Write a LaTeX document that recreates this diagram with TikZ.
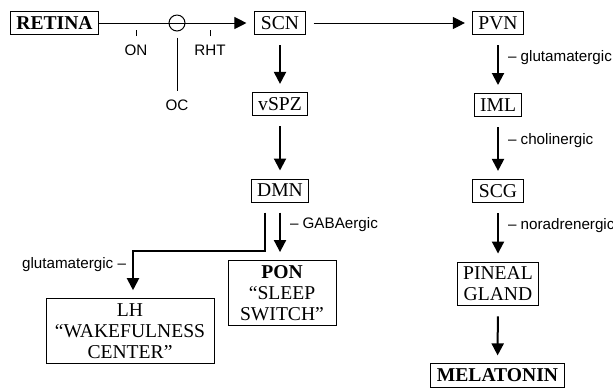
\documentclass[tikz,border=0pt]{standalone}
\usepackage{fontspec}
\setmainfont{Liberation Serif}
\setsansfont{Liberation Sans}
\usetikzlibrary{arrows.meta}
\tikzset{
  box/.style={
    draw,
    line width=0.5pt,
    align=center,
    inner xsep=3pt,
    inner ysep=2.5pt,
    minimum height=11.5pt,
    font=\fontsize{9.8}{10.4}\selectfont
  },
  tag/.style={font=\sffamily\fontsize{7.6}{8.4}\selectfont, inner sep=1pt},
  fibre/.style={line width=0.5pt},
  fibrearrow/.style={fibre, -{Triangle[length=6pt,width=6pt]}},
  arrow/.style={-{Triangle[length=6pt,width=6pt]}, line width=1pt, shorten <=5pt, shorten >=4pt}
}

\begin{document}
\begin{tikzpicture}[x=0.5pt, y=-0.5pt]
  \useasboundingbox (0,0) rectangle (613,388);

  % top row
  \node[box] (retina) at (54.5,23) {\textbf{RETINA}};
  \node[box] (scn) at (280,23) {SCN};
  \node[box] (pvn) at (498,23) {PVN};
  \node[circle, draw, line width=0.5pt, minimum size=8pt, inner sep=0pt] (chiasm) at (177,23) {};

  % middle column
  \node[box] (vspz) at (280,104) {vSPZ};
  \node[box] (dmn) at (280,190.5) {DMN};
  \node[box, minimum width=54pt] (pon) at (282,293) {\textbf{PON}\\``SLEEP\\SWITCH''};
  \node[box, minimum width=84pt] (lh) at (130,331) {LH\\``WAKEFULNESS\\CENTER''};

  % right column
  \node[box] (iml) at (498,105) {IML};
  \node[box] (scg) at (498,191) {SCG};
  \node[box] (pineal) at (498,284) {PINEAL\\GLAND};
  \node[box, minimum width=65.5pt] (melatonin) at (497.5,375.5) {\textbf{MELATONIN}};

  % optic tract labels
  \node[tag] (on) at (136,50) {ON};
  \node[tag] (rht) at (210,50) {RHT};
  \node[tag] (oc) at (177,105) {OC};
  \draw[fibre] ([yshift=3pt]on.north) -- ++(0,-6);
  \draw[fibre] ([yshift=3pt]rht.north) -- ++(0,-6);
  \draw[fibre, shorten <=3pt, shorten >=3pt] (chiasm) -- (oc);

  \draw[fibrearrow, shorten >=4pt] (retina) -- (scn);
  \draw[fibrearrow, shorten <=4pt, shorten >=3.5pt] (scn) -- (pvn);

  \draw[arrow] (scn) -- (vspz);
  \draw[arrow] (vspz) -- (dmn);
  \draw[arrow] (dmn) -- node[tag, pos=0.38, right=3.5pt] {– GABAergic} (dmn |- pon.north);
  \draw[arrow] ([xshift=-7.5pt]dmn.south) -- ++(0,48)
    -| node[tag, pos=0.65, left=2pt] {glutamatergic –} ([xshift=1.5pt]lh.north);

  \draw[arrow] (pvn) -- node[tag, pos=0.38, right=3.5pt] {– glutamatergic} (iml);
  \draw[arrow] (iml) -- node[tag, pos=0.38, right=3.5pt] {– cholinergic} (scg);
  \draw[arrow] (scg) -- node[tag, pos=0.38, right=3.5pt] {– noradrenergic} (pineal);
  \draw[arrow] (pineal) -- (melatonin);
\end{tikzpicture}
\end{document}
